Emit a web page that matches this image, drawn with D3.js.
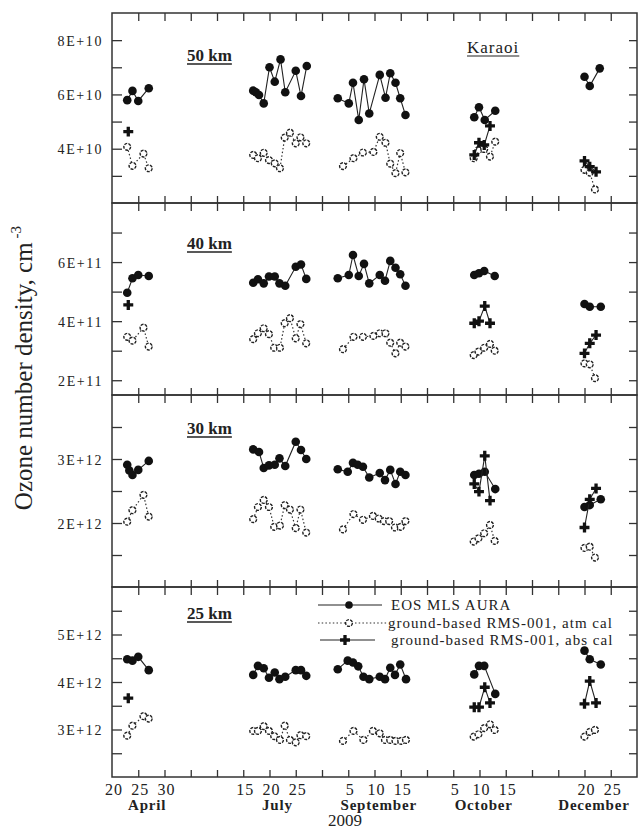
<!DOCTYPE html>
<html>
<head>
<meta charset="utf-8">
<script src="https://cdn.jsdelivr.net/npm/d3@7"></script>
<style>
  body { margin: 0; background: #fff; }
  text { font-family: "Liberation Serif", "Times New Roman", serif; fill: #222; }
</style>
</head>
<body>
<div id="grafico"></div>
<script>
// Meses del eje x (eje partido): el primer dia etiquetado cae en la marca "tick"
var meses = [
    {m: "Apr", nombre: "April",     inicio: 20, tick: 0,  etiquetas: [20, 25, 30], centro: 26.7},
    {m: "Jul", nombre: "July",      inicio: 15, tick: 5,  etiquetas: [15, 20, 25], centro: 21.5},
    {m: "Sep", nombre: "September", inicio: 5,  tick: 9,  etiquetas: [5, 10, 15],  centro: 10.8},
    {m: "Oct", nombre: "October",   inicio: 5,  tick: 13, etiquetas: [5, 10, 15],  centro: 10.8},
    {m: "Dec", nombre: "December",  inicio: 20, tick: 18, etiquetas: [20, 25],     centro: 21.8}
]

// Datos: [mes, dia, valor] (valor en unidades de 1E+exp del panel)
// 50 km (E+10)
var mls50 = [["Apr",22.9,5.79],["Apr",23.9,6.13],["Apr",25,5.76],["Apr",27,6.23],
    ["Jul",16.9,6.14],["Jul",17.4,6.08],["Jul",18,5.98],["Jul",18.9,5.67],["Jul",20,7.0],["Jul",21,6.47],["Jul",22.1,7.29],["Jul",23,6.08],["Jul",25,6.87],["Jul",26,5.94],["Jul",27.1,7.05],
    ["Sep",3,5.86],["Sep",5.1,5.67],["Sep",5.9,6.43],["Sep",7,5.06],["Sep",8,6.56],["Sep",9,5.30],["Sep",11,6.72],["Sep",12.1,5.88],["Sep",13,6.78],["Sep",14,6.43],["Sep",14.9,5.86],["Sep",15.9,5.24],
    ["Oct",9,5.16],["Oct",9.9,5.53],["Oct",11,5.06],["Oct",13,5.4],
    ["Dec",20,6.65],["Dec",21,6.31],["Dec",22.9,6.96]]
var atm50 = [["Apr",22.9,4.07],["Apr",23.9,3.37],["Apr",26,3.82],["Apr",27,3.28],
    ["Jul",16.9,3.77],["Jul",17.8,3.65],["Jul",18.9,3.85],["Jul",19.9,3.58],["Jul",21,3.46],["Jul",22,3.28],["Jul",22.9,4.41],["Jul",23.9,4.59],["Jul",25,4.2],["Jul",25.9,4.42],["Jul",27,4.2],
    ["Sep",4,3.36],["Sep",6,3.65],["Sep",7.8,3.86],["Sep",9.8,3.88],["Sep",11,4.44],["Sep",12.1,4.22],["Sep",13,3.45],["Sep",14,3.10],["Sep",14.9,3.84],["Sep",15.9,3.13],
    ["Oct",8.9,3.65],["Oct",9.8,3.95],["Oct",10.9,3.99],["Oct",12,3.71],["Oct",13,4.26],
    ["Dec",20,3.22],["Dec",21,3.12],["Dec",22,2.50]]
var abs50 = [["Apr",23.1,4.63],
    ["Oct",9,3.77],["Oct",9.9,4.22],["Oct",10.9,4.14],["Oct",12,4.84],
    ["Dec",20,3.55],["Dec",21,3.34],["Dec",22.2,3.15]]

// 40 km (E+11)
var mls40 = [["Apr",22.9,4.96],["Apr",23.9,5.45],["Apr",25,5.56],["Apr",27,5.53],
    ["Jul",16.9,5.30],["Jul",17.8,5.42],["Jul",18.9,5.28],["Jul",19.9,5.51],["Jul",21,5.51],["Jul",21.9,5.28],["Jul",23,5.20],["Jul",25,5.84],["Jul",26,5.92],["Jul",27,5.43],
    ["Sep",3,5.45],["Sep",5.1,5.56],["Sep",5.9,6.24],["Sep",7,5.53],["Sep",8,5.94],["Sep",9,5.28],["Sep",11,5.56],["Sep",12,5.37],["Sep",13,6.04],["Sep",14,5.81],["Sep",14.9,5.59],["Sep",15.9,5.20],
    ["Oct",9,5.56],["Oct",9.9,5.62],["Oct",10.9,5.70],["Oct",12.9,5.53],
    ["Dec",20,4.58],["Dec",21,4.49],["Dec",23.1,4.49]]
var atm40 = [["Apr",22.9,3.47],["Apr",23.9,3.34],["Apr",26,3.78],["Apr",27,3.14],
    ["Jul",16.9,3.39],["Jul",17.8,3.59],["Jul",18.9,3.76],["Jul",19.9,3.56],["Jul",20.9,3.10],["Jul",22,3.10],["Jul",22.9,3.93],["Jul",23.9,4.10],["Jul",25,3.42],["Jul",25.9,3.90],["Jul",27,3.25],
    ["Sep",4,3.05],["Sep",6,3.47],["Sep",7.8,3.47],["Sep",9.8,3.50],["Sep",11,3.59],["Sep",12.1,3.59],["Sep",13,3.27],["Sep",14,2.91],["Sep",14.9,3.27],["Sep",15.9,3.14],
    ["Oct",8.9,2.85],["Oct",9.8,2.97],["Oct",10.9,3.10],["Oct",12,3.23],["Oct",12.9,3.0],
    ["Dec",20,2.57],["Dec",21,2.54],["Dec",22,2.07]]
var abs40 = [["Apr",23.1,4.55],
    ["Oct",9,3.93],["Oct",9.9,4.0],["Oct",11,4.51],["Oct",12,3.93],
    ["Dec",20,2.91],["Dec",21,3.25],["Dec",22.2,3.53]]

// 30 km (E+12)
var mls30 = [["Apr",22.9,2.91],["Apr",23.3,2.82],["Apr",23.9,2.75],["Apr",25,2.83],["Apr",27,2.97],
    ["Jul",16.9,3.15],["Jul",18,3.11],["Jul",18.9,2.86],["Jul",19.9,2.90],["Jul",21,2.91],["Jul",21.9,3.01],["Jul",23,2.89],["Jul",25,3.27],["Jul",26,3.14],["Jul",27,3.0],
    ["Sep",3,2.84],["Sep",4.9,2.80],["Sep",5.9,2.94],["Sep",6.8,2.91],["Sep",7.8,2.88],["Sep",9,2.71],["Sep",11,2.78],["Sep",12,2.67],["Sep",13,2.83],["Sep",14,2.61],["Sep",14.9,2.80],["Sep",15.9,2.75],
    ["Oct",9,2.75],["Oct",9.9,2.77],["Oct",11,2.80],["Oct",13,2.53],
    ["Dec",20,2.25],["Dec",21,2.28],["Dec",23.1,2.37]]
var atm30 = [["Apr",22.9,2.02],["Apr",23.9,2.20],["Apr",26,2.44],["Apr",27,2.10],
    ["Jul",16.9,2.06],["Jul",17.8,2.25],["Jul",18.9,2.36],["Jul",19.9,2.25],["Jul",20.9,1.94],["Jul",22,1.96],["Jul",22.9,2.28],["Jul",23.9,2.21],["Jul",25,1.92],["Jul",25.9,2.21],["Jul",27,1.85],
    ["Sep",4,1.90],["Sep",6,2.14],["Sep",7.8,2.05],["Sep",9.7,2.11],["Sep",10.8,2.07],["Sep",11.8,2.03],["Sep",12.8,2.03],["Sep",13.9,1.93],["Sep",15,1.94],["Sep",15.9,2.03],
    ["Oct",8.9,1.71],["Oct",9.8,1.76],["Oct",10.9,1.84],["Oct",12,1.97],["Oct",12.9,1.72],
    ["Dec",20,1.61],["Dec",21,1.63],["Dec",22,1.46]]
var abs30 = [["Oct",9,2.61],["Oct",9.9,2.49],["Oct",11,3.05],["Oct",12,2.35],
    ["Dec",20,1.93],["Dec",21,2.37],["Dec",22.2,2.54]]

// 25 km (E+12)
var mls25 = [["Apr",22.9,4.48],["Apr",23.9,4.45],["Apr",25,4.53],["Apr",27,4.25],
    ["Jul",16.9,4.15],["Jul",17.8,4.34],["Jul",18.9,4.29],["Jul",19.9,4.09],["Jul",21,4.20],["Jul",21.9,4.06],["Jul",23,4.11],["Jul",25,4.25],["Jul",26,4.25],["Jul",27,4.13],
    ["Sep",3,4.27],["Sep",4.9,4.45],["Sep",5.9,4.41],["Sep",6.9,4.33],["Sep",7.9,4.11],["Sep",9,4.06],["Sep",11,4.11],["Sep",12,4.06],["Sep",13,4.30],["Sep",13.9,4.15],["Sep",14.9,4.37],["Sep",16,4.06],
    ["Oct",9,4.16],["Oct",9.9,4.34],["Oct",10.9,4.34],["Oct",13,3.75],
    ["Dec",20,4.66],["Dec",21,4.48],["Dec",23.1,4.37]]
var atm25 = [["Apr",22.9,2.87],["Apr",23.9,3.08],["Apr",26,3.28],["Apr",27,3.23],
    ["Jul",16.9,2.97],["Jul",17.8,2.97],["Jul",18.9,3.07],["Jul",19.9,2.97],["Jul",20.9,2.86],["Jul",22,2.78],["Jul",22.9,3.08],["Jul",23.9,2.78],["Jul",25,2.73],["Jul",25.9,2.88],["Jul",27,2.86],
    ["Sep",4,2.76],["Sep",6,2.97],["Sep",7.9,2.78],["Sep",9.7,2.97],["Sep",11,2.92],["Sep",12,2.78],["Sep",13,2.78],["Sep",14,2.76],["Sep",15.1,2.76],["Sep",16,2.78],
    ["Oct",8.9,2.85],["Oct",9.8,2.90],["Oct",10.9,3.03],["Oct",12,3.11],["Oct",12.9,2.99],
    ["Dec",20,2.85],["Dec",21,2.95],["Dec",22,2.99]]
var abs25 = [["Apr",23.1,3.66],
    ["Oct",9,3.47],["Oct",9.9,3.47],["Oct",11,3.89],["Oct",12,3.56],
    ["Dec",20,3.54],["Dec",21,4.02],["Dec",22.2,3.56]]

var leyenda = ["EOS MLS AURA", "ground-based RMS-001, atm cal", "ground-based RMS-001, abs cal"]

var paneles = [
    {km: "50 km", exp: 10, dominio: [2, 9],   mayores: [4, 6, 8], menores: [3, 5, 7],           mls: mls50, atm: atm50, abs: abs50, ky: 48},
    {km: "40 km", exp: 11, dominio: [1.5, 8], mayores: [2, 4, 6], menores: [3, 5, 7],           mls: mls40, atm: atm40, abs: abs40, ky: 46},
    {km: "30 km", exp: 12, dominio: [1, 4],   mayores: [2, 3],    menores: [1.5, 2.5, 3.5],     mls: mls30, atm: atm30, abs: abs30, ky: 39},
    {km: "25 km", exp: 12, dominio: [2, 6],   mayores: [3, 4, 5], menores: [2.5, 3.5, 4.5, 5.5], mls: mls25, atm: atm25, abs: abs25, ky: 32}
]

// Configuracion general
var width = 638
var height = 832
var bordes = [13, 203, 395, 587, 777]
var izq = 112, der = 637

var svg = d3.select("#grafico")
    .append("svg")
    .attr("width", width)
    .attr("height", height)

var x = d3.scaleLinear().domain([0, 20]).range([izq, der])
var mesPor = new Map(meses.map(d => [d.m, d]))
function fx(mes, dia) {
    var mm = mesPor.get(mes)
    return x(mm.tick + (dia - mm.inicio) / 5)
}

var cruz = d3.symbol().type(d3.symbolCross).size(55)

paneles.forEach(function (p, i) {
    var top = bordes[i], bot = bordes[i + 1]
    var y = d3.scaleLinear().domain(p.dominio).range([bot, top])
    var g = svg.append("g")

    // marco
    g.append("rect")
        .attr("x", izq).attr("y", top)
        .attr("width", der - izq).attr("height", bot - top)
        .attr("fill", "none").attr("stroke", "#333").attr("stroke-width", 1.5)

    // eje y izquierdo (marcas hacia dentro)
    var ejeY = g.append("g")
        .attr("transform", "translate(" + izq + ",0)")
        .call(d3.axisLeft(y).tickValues(p.mayores).tickSize(-10).tickPadding(9)
            .tickFormat(d => d + "E+" + p.exp))
    ejeY.selectAll("text")
        .style("font-size", "14px")
        .style("letter-spacing", "1.6px")
        .attr("dy", "0.36em")
    g.append("g")
        .attr("transform", "translate(" + izq + ",0)")
        .call(d3.axisLeft(y).tickValues(p.menores).tickSize(-10).tickFormat(""))
    g.append("g")
        .attr("transform", "translate(" + der + ",0)")
        .call(d3.axisRight(y).tickValues(p.mayores.concat(p.menores)).tickSize(-8).tickFormat(""))

    // marcas x arriba y abajo
    g.append("g")
        .attr("transform", "translate(0," + top + ")")
        .call(d3.axisBottom(x).tickValues(d3.range(1, 20)).tickSize(8).tickFormat(""))
    g.append("g")
        .attr("transform", "translate(0," + bot + ")")
        .call(d3.axisTop(x).tickValues(d3.range(1, 20)).tickSize(7).tickFormat(""))

    g.selectAll(".domain").remove()
    g.selectAll(".tick line").attr("stroke", "#333").attr("stroke-width", 1.3)

    var linea = d3.line().x(d => fx(d[0], d[1])).y(d => y(d[2]))

    // atm cal: circulos abiertos con punteado
    g.selectAll(".latm")
        .data(d3.groups(p.atm, d => d[0]))
        .join("path")
        .attr("d", d => linea(d[1]))
        .attr("fill", "none").attr("stroke", "#333")
        .attr("stroke-width", 1.2).attr("stroke-dasharray", "1.5,2.2")
    g.selectAll(".patm")
        .data(p.atm)
        .join("circle")
        .attr("cx", d => fx(d[0], d[1])).attr("cy", d => y(d[2]))
        .attr("r", 3.4)
        .attr("fill", "#fff").attr("stroke", "#222").attr("stroke-width", 1.4)
        .attr("stroke-dasharray", "3,1.2")

    // EOS MLS AURA
    g.selectAll(".lmls")
        .data(d3.groups(p.mls, d => d[0]))
        .join("path")
        .attr("d", d => linea(d[1]))
        .attr("fill", "none").attr("stroke", "#222").attr("stroke-width", 1.1)
    g.selectAll(".pmls")
        .data(p.mls)
        .join("circle")
        .attr("cx", d => fx(d[0], d[1])).attr("cy", d => y(d[2]))
        .attr("r", 4.3).attr("fill", "#111")

    // abs cal: cruces
    g.selectAll(".labs")
        .data(d3.groups(p.abs, d => d[0]))
        .join("path")
        .attr("d", d => linea(d[1]))
        .attr("fill", "none").attr("stroke", "#222").attr("stroke-width", 1.1)
    g.selectAll(".pabs")
        .data(p.abs)
        .join("path")
        .attr("transform", d => "translate(" + fx(d[0], d[1]) + "," + y(d[2]) + ")")
        .attr("d", cruz).attr("fill", "#111")

    // etiqueta de altura subrayada
    var et = g.append("text")
        .attr("x", 187).attr("y", top + p.ky)
        .style("font-size", "17px").style("font-weight", "bold")
        .text(p.km)
    var w = et.node().getComputedTextLength()
    g.append("line")
        .attr("x1", 187).attr("x2", 187 + w)
        .attr("y1", top + p.ky + 3).attr("y2", top + p.ky + 3)
        .attr("stroke", "#222").attr("stroke-width", 1.6)
})

// Karaoi
var ka = svg.append("text")
    .attr("x", 467).attr("y", 53)
    .style("font-size", "17px").style("letter-spacing", "1px")
    .text("Karaoi")
svg.append("line")
    .attr("x1", 467).attr("x2", 467 + ka.node().getComputedTextLength())
    .attr("y1", 56).attr("y2", 56)
    .attr("stroke", "#222").attr("stroke-width", 1.2)

// Leyenda en el panel de 25 km
var ly = [605, 623, 640]
var gl = svg.append("g")
gl.append("line").attr("x1", 318).attr("x2", 382).attr("y1", ly[0]).attr("y2", ly[0])
    .attr("stroke", "#222").attr("stroke-width", 1.1)
gl.append("circle").attr("cx", 349).attr("cy", ly[0]).attr("r", 3.8).attr("fill", "#111")
gl.append("line").attr("x1", 318).attr("x2", 387).attr("y1", ly[1]).attr("y2", ly[1])
    .attr("stroke", "#333").attr("stroke-width", 1.2).attr("stroke-dasharray", "1.5,2.2")
gl.append("circle").attr("cx", 349).attr("cy", ly[1]).attr("r", 3.4)
    .attr("fill", "#fff").attr("stroke", "#222").attr("stroke-width", 1.4)
    .attr("stroke-dasharray", "3,1.2")
gl.append("line").attr("x1", 320).attr("x2", 375).attr("y1", ly[2]).attr("y2", ly[2])
    .attr("stroke", "#222").attr("stroke-width", 1.1)
gl.append("path").attr("transform", "translate(345," + ly[2] + ")").attr("d", cruz).attr("fill", "#111")
gl.selectAll(".tl")
    .data(leyenda)
    .join("text")
    .attr("x", (d, i) => i == 1 ? 388 : 391)
    .attr("y", (d, i) => ly[i] + 5)
    .style("font-size", "15px").style("letter-spacing", "1px")
    .text(d => d)

// Etiquetas del eje x
meses.forEach(function (mm) {
    svg.selectAll(null)
        .data(mm.etiquetas)
        .join("text")
        .attr("x", d => fx(mm.m, d) + 2)
        .attr("y", 795)
        .attr("text-anchor", "middle")
        .style("font-size", "16px").style("letter-spacing", "1px")
        .text(d => d)
    svg.append("text")
        .attr("x", fx(mm.m, mm.centro))
        .attr("y", 810)
        .attr("text-anchor", "middle")
        .style("font-size", "15px").style("font-weight", "bold").style("letter-spacing", "0.8px")
        .text(mm.nombre)
})
svg.append("text")
    .attr("x", 345).attr("y", 826)
    .attr("text-anchor", "middle")
    .style("font-size", "17px")
    .text("2009")

// Titulo del eje y
var ty = svg.append("text")
    .attr("transform", "translate(32,368) rotate(-90)")
    .attr("text-anchor", "middle")
    .style("font-size", "25px")
ty.append("tspan").text("Ozone number density, cm")
ty.append("tspan").attr("dy", -11).attr("dx", 4).style("font-size", "15px").text("-3")
</script>
</body>
</html>
